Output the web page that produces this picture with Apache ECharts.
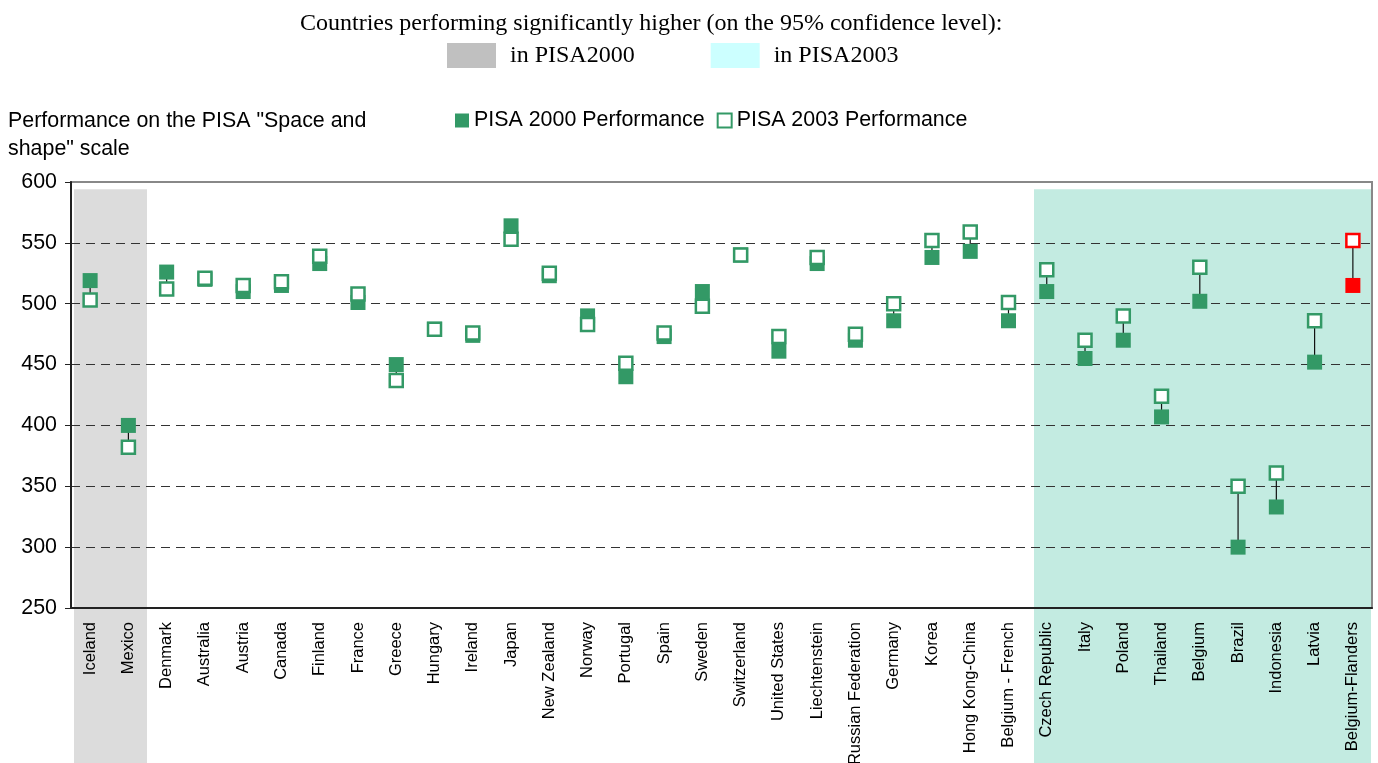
<!DOCTYPE html>
<html>
<head>
<meta charset="utf-8">
<title>PISA Space and shape</title>
<script src="https://cdn.jsdelivr.net/npm/echarts@6/dist/echarts.min.js"></script>
<style>
    html, body {margin: 0; padding: 0; background: #fff;}
    #chart {width: 1378px; height: 763px;}
</style>
</head>
<body>
<div id="chart"></div>
<script>
// data
var countries = ['Iceland', 'Mexico', 'Denmark', 'Australia', 'Austria', 'Canada', 'Finland', 'France',
    'Greece', 'Hungary', 'Ireland', 'Japan', 'New Zealand', 'Norway', 'Portugal', 'Spain', 'Sweden',
    'Switzerland', 'United States', 'Liechtenstein', 'Russian Federation', 'Germany', 'Korea',
    'Hong Kong-China', 'Belgium - French', 'Czech Republic', 'Italy', 'Poland', 'Thailand', 'Belgium',
    'Brazil', 'Indonesia', 'Latvia', 'Belgium-Flanders'];
var pisa2000 = [519, 400, 526, 520, 510, 515, 533, 501, 450, 479, 474, 564, 523, 490, 440, 473, 510,
    540, 461, 533, 470, 486, 538, 543, 486, 510, 455, 470, 407, 502, 300, 333, 452, 515];
var pisa2003 = [503, 382, 512, 521, 515, 518, 539, 508, 437, 479, 476, 553, 525, 483, 451, 476, 498,
    540, 473, 538, 475, 500, 552, 559, 501, 528, 470, 490, 424, 530, 350, 361, 486, 552];
var higherIn2000 = ['Iceland', 'Mexico'];
var higherIn2003 = ['Czech Republic', 'Italy', 'Poland', 'Thailand', 'Belgium', 'Brazil', 'Indonesia',
    'Latvia', 'Belgium-Flanders'];
var highlighted = 'Belgium-Flanders';
var yTicks = [250, 300, 350, 400, 450, 500, 550, 600];

var GREEN = '#339966';
var RED = '#ff0000';
var SANS = 'Liberation Sans, Arial, sans-serif';
var SERIF = 'Liberation Serif, Times New Roman, serif';

// contiguous index range of a list of countries
function range(list) {
    var idx = list.map(function (c) { return countries.indexOf(c); });
    return [Math.min.apply(null, idx), Math.max.apply(null, idx)];
}

function bandRenderer(fill, inset) {
    return function (params, api) {
        var bw = api.size([1, 0])[0];
        var p0 = api.coord([api.value(0), 594]);
        var p1 = api.coord([api.value(1), 594]);
        var x0 = Math.round(p0[0] - bw / 2 + inset);
        var x1 = Math.round(p1[0] + bw / 2 - 1);
        return {
            type: 'rect',
            shape: {x: x0, y: p0[1], width: x1 - x0, height: api.getHeight() - p0[1]},
            style: {fill: fill}
        };
    };
}

var myChart = echarts.init(document.getElementById('chart'));

myChart.setOption({
    animation: false,
    title: [{
        text: 'Countries performing significantly higher (on the 95% confidence level):',
        left: 300,
        top: 12,
        padding: 0,
        textStyle: {fontFamily: SERIF, fontSize: 24, fontWeight: 'normal', color: '#000'}
    }, {
        text: 'Performance on the PISA "Space and\nshape" scale',
        left: 8,
        top: 107,
        padding: 0,
        textStyle: {fontFamily: SANS, fontSize: 21.4, fontWeight: 'normal', color: '#000', lineHeight: 28}
    }],
    legend: [{
        left: 447,
        top: 43,
        padding: 0,
        itemWidth: 49,
        itemHeight: 25,
        itemGap: 76,
        selectedMode: false,
        icon: 'rect',
        textStyle: {fontFamily: SERIF, fontSize: 24, color: '#000', padding: [0, 0, 0, 9]},
        data: [
            {name: 'in PISA2000', itemStyle: {color: '#c0c0c0'}},
            {name: 'in PISA2003', itemStyle: {color: '#ccffff'}}
        ]
    }, {
        left: 455,
        top: 110,
        padding: 0,
        itemWidth: 14,
        itemHeight: 14,
        itemGap: 12,
        selectedMode: false,
        icon: 'rect',
        textStyle: {fontFamily: SANS, fontSize: 21.4, color: '#000'},
        data: [
            {name: 'PISA 2000 Performance', itemStyle: {color: GREEN}},
            {name: 'PISA 2003 Performance', itemStyle: {color: '#fff', borderColor: GREEN, borderWidth: 2}}
        ]
    }],
    grid: {
        left: 71,
        right: 6,
        top: 182,
        bottom: 155,
        outerBoundsMode: 'none',
        show: true,
        borderColor: '#888',
        borderWidth: 2
    },
    xAxis: {
        type: 'category',
        data: countries,
        z: 1,
        boundaryGap: true,
        axisLine: {lineStyle: {color: '#222', width: 2}},
        axisTick: {show: false},
        axisLabel: {
            interval: 0,
            rotate: 90,
            margin: 14,
            fontFamily: SANS,
            fontSize: 16.5,
            color: '#000'
        }
    },
    yAxis: {
        type: 'value',
        min: yTicks[0],
        max: yTicks[yTicks.length - 1],
        interval: 50,
        z: 1,
        axisLine: {show: true, lineStyle: {color: '#222', width: 2}},
        axisTick: {show: true, length: 6, lineStyle: {color: '#222'}},
        axisLabel: {margin: 14, fontFamily: SANS, fontSize: 21.4, color: '#000'},
        splitLine: {
            showMinLine: false,
            showMaxLine: false,
            lineStyle: {color: '#333', width: 1.2, type: [9, 6]}
        }
    },
    series: [{
        // shaded background bands
        name: 'in PISA2000',
        type: 'custom',
        z: 0,
        clip: false,
        silent: true,
        encode: {x: [0, 1]},
        renderItem: bandRenderer('#dcdcdc', 3),
        data: [range(higherIn2000)]
    }, {
        name: 'in PISA2003',
        type: 'custom',
        z: 0,
        clip: false,
        silent: true,
        encode: {x: [0, 1]},
        renderItem: bandRenderer('#c3ebe1', 6),
        data: [range(higherIn2003)]
    }, {
        // vertical line between the two results
        type: 'custom',
        z: 3,
        silent: true,
        renderItem: function (params, api) {
            var a = api.coord([api.value(0), api.value(1)]);
            var b = api.coord([api.value(0), api.value(2)]);
            return {
                type: 'line',
                shape: {x1: a[0], y1: a[1], x2: b[0], y2: b[1]},
                style: {stroke: '#111', lineWidth: 1.2}
            };
        },
        encode: {x: 0, y: [1, 2]},
        data: countries.map(function (c, i) { return [i, pisa2000[i], pisa2003[i]]; })
    }, {
        name: 'PISA 2000 Performance',
        type: 'scatter',
        z: 4,
        symbol: 'rect',
        symbolSize: 15,
        itemStyle: {color: GREEN, opacity: 1},
        data: countries.map(function (c, i) {
            return c === highlighted ? {value: pisa2000[i], itemStyle: {color: RED}} : pisa2000[i];
        })
    }, {
        name: 'PISA 2003 Performance',
        type: 'scatter',
        z: 5,
        symbol: 'rect',
        symbolSize: 13,
        itemStyle: {color: '#fff', borderColor: GREEN, borderWidth: 2.5, opacity: 1},
        data: countries.map(function (c, i) {
            return c === highlighted ? {value: pisa2003[i], itemStyle: {borderColor: RED}} : pisa2003[i];
        })
    }]
});
</script>
</body>
</html>
